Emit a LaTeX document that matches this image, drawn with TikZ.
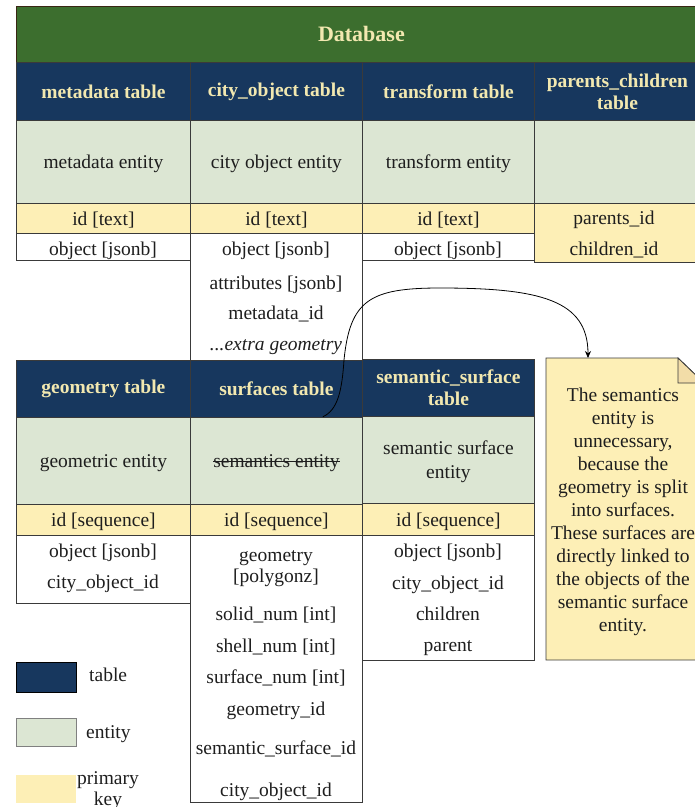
\documentclass[tikz,border=0pt]{standalone}
\usepackage{fontspec}
\setmainfont{Liberation Serif}
\usetikzlibrary{arrows.meta,calc}

\definecolor{dbgreen}{HTML}{3C6E2E}
\definecolor{navy}{HTML}{17375E}
\definecolor{entg}{HTML}{DCE6D3}
\definecolor{pky}{HTML}{FDEFB6}
\definecolor{cream}{HTML}{F2E8B0}
\definecolor{linec}{HTML}{3A3A3A}
\definecolor{txt}{HTML}{1E1E1E}

\newcommand{\bodyfont}{\fontsize{19.5}{23}\selectfont}
\newcommand{\headfont}{\fontsize{19.5}{22}\selectfont\bfseries}

\tikzset{
  cell/.style={draw=linec, line width=0.8pt, inner sep=0pt, anchor=north west,
               align=center, text=txt, font=\bodyfont},
  hdr/.style={cell, fill=navy, text=cream, font=\headfont},
  ent/.style={cell, fill=entg, text depth=0pt},
  pkc/.style={cell, fill=pky, text depth=0pt},
  bodybox/.style={cell, fill=white},
  fld/.style={inner sep=0pt, align=center, text=txt, font=\bodyfont, text depth=0pt},
  link/.style={draw=black, line width=0.8pt, -{Stealth[length=7pt,width=6pt]}},
}

\begin{document}
\begin{tikzpicture}[x=1pt,y=-1pt]
\useasboundingbox (0,0) rectangle (695,807);
\clip (0,0) rectangle (695,807);

% ---------- database banner ----------
\node[cell, fill=dbgreen, draw=black!70!brown, text=cream,
      font=\fontsize{22}{24}\selectfont\bfseries,
      minimum width=690pt, minimum height=56pt] (db) at (16,6) {Database};

% ---------- upper tables: bodies ----------
\node[bodybox, minimum width=174pt, minimum height=27pt]  (mdb) at (16,233) {};
\node[bodybox, minimum width=172pt, minimum height=127pt] (cob) at (190,233) {};
\node[bodybox, minimum width=172pt, minimum height=27pt]  (trb) at (362,233) {};

% headers
\node[hdr, minimum width=174pt, minimum height=58pt] (mdh) at (16,62)  {metadata table};
\node[hdr, minimum width=172pt, minimum height=58pt] (coh) at (190,62) {city\_object table};
\node[hdr, minimum width=172pt, minimum height=58pt] (trh) at (362,62) {transform table};
\node[hdr, minimum width=166pt, minimum height=58pt] (pch) at (534,62) {parents\_children\\table};

% entities
\node[ent, minimum width=174pt, minimum height=83pt] (mde) at (16,120)  {metadata entity};
\node[ent, minimum width=172pt, minimum height=83pt] (coe) at (190,120) {city object entity};
\node[ent, minimum width=172pt, minimum height=83pt] (tre) at (362,120) {transform entity};
\node[ent, minimum width=166pt, minimum height=83pt] (pce) at (534,120) {};

% primary keys
\node[pkc, minimum width=174pt, minimum height=30pt] (mdk) at (16,203)  {id [text]};
\node[pkc, minimum width=172pt, minimum height=30pt] (cok) at (190,203) {id [text]};
\node[pkc, minimum width=172pt, minimum height=30pt] (trk) at (362,203) {id [text]};
\node[pkc, minimum width=166pt, minimum height=59pt] (pck) at (534,203) {};

% fields
\node[fld] (md1) at (103,249) {object [jsonb]};
\node[fld] (co1) at (276,249) {object [jsonb]};
\node[fld] (co2) at (276,283) {attributes [jsonb]};
\node[fld] (co3) at (276,313) {metadata\_id};
\node[fld] (co4) at (276,345) {\textit{...extra geometry}};
\node[fld] (tr1) at (448,249) {object [jsonb]};
\node[fld] (pc1) at (614,218) {parents\_id};
\node[fld] (pc2) at (614,249) {children\_id};

% ---------- lower tables: bodies ----------
\node[bodybox, minimum width=174pt, minimum height=68pt]  (geb) at (16,535)  {};
\node[bodybox, minimum width=172pt, minimum height=267pt] (sfb) at (190,535) {};
\node[bodybox, minimum width=172pt, minimum height=125pt] (ssb) at (362,535) {};

% headers
\node[hdr, minimum width=174pt, minimum height=57pt] (geh) at (16,360)  {geometry table};
\node[hdr, minimum width=172pt, minimum height=57pt] (sfh) at (190,360) {surfaces table};
\node[hdr, minimum width=172pt, minimum height=57pt] (ssh) at (362,359) {semantic\_surface\\table};

% entities
\node[ent, minimum width=174pt, minimum height=87pt] (gee) at (16,417)  {geometric entity};
\node[ent, minimum width=172pt, minimum height=87pt] (sfe) at (190,417) {};
\node[fld] (sfet) at (sfe.center) {semantics entity};
\draw[txt, line width=0.9pt] ($(sfet.west)+(0,1)$) -- ($(sfet.east)+(0,1)$);
\node[ent, minimum width=172pt, minimum height=87pt] (sse) at (362,416) {semantic surface\\[1pt]entity};

% primary keys
\node[pkc, minimum width=174pt, minimum height=31pt] (gek) at (16,504)  {id [sequence]};
\node[pkc, minimum width=172pt, minimum height=31pt] (sfk) at (190,504) {id [sequence]};
\node[pkc, minimum width=172pt, minimum height=32pt] (ssk) at (362,503) {id [sequence]};

% fields
\node[fld] (ge1) at (103,551) {object [jsonb]};
\node[fld] (ge2) at (103,582) {city\_object\_id};

\node[fld, font=\fontsize{19.5}{21}\selectfont] (sf1) at (276,567) {geometry\\{}[polygonz]};
\node[fld] (sf2) at (276,614) {solid\_num [int]};
\node[fld] (sf3) at (276,646) {shell\_num [int]};
\node[fld] (sf4) at (276,677) {surface\_num [int]};
\node[fld] (sf5) at (276,709) {geometry\_id};
\node[fld] (sf6) at (276,748) {semantic\_surface\_id};
\node[fld] (sf7) at (276,790) {city\_object\_id};

\node[fld] (ss1) at (448,551) {object [jsonb]};
\node[fld] (ss2) at (448,583) {city\_object\_id};
\node[fld] (ss3) at (448,614) {children};
\node[fld] (ss4) at (448,646) {parent};

% ---------- note ----------
\coordinate (nNW) at (546,358);
\coordinate (nFold) at (678,358);
\coordinate (nFoldIn) at (678,383);
\coordinate (nE) at (704,383);
\coordinate (nSE) at (704,660);
\coordinate (nSW) at (546,660);
\filldraw[fill=pky, draw=linec, line width=0.8pt]
  (nNW) -- (nFold) -- (nE) -- (nSE) -- (nSW) -- cycle;
\filldraw[fill=pky!80!brown!90!white, draw=linec, line width=0.8pt]
  (nFold) -- (nFoldIn) -- (nE) -- cycle;
\node[fld] (note) at (623,510) {The semantics\\entity is\\unnecessary,\\because the\\geometry is split\\into surfaces.\\These surfaces are\\directly linked to\\the objects of the\\semantic surface\\entity.};

% ---------- connector ----------
\coordinate (arrS) at ($(sfh.south east)+(-40,-1)$);
\coordinate (arrE) at (588,358);
\draw[link] (arrS) .. controls (338,410) and (342,390) .. (344,360)
  .. controls (350,300) and (370,288) .. (440,288)
  .. controls (540,288) and (588,300) .. (arrE);

% ---------- legend ----------
\node[hdr, draw=black, minimum width=60pt, minimum height=30pt] (lgT) at (16,662) {};
\node[fld, anchor=west] (lgTl) at (89,675) {table};
\node[ent, draw=gray, minimum width=60pt, minimum height=28pt] (lgE) at (16,718) {};
\node[fld, anchor=west] (lgEl) at (86,732) {entity};
\node[pkc, draw=none, minimum width=60pt, minimum height=28pt] (lgK) at (16,775) {};
\node[fld, font=\fontsize{19.5}{21}\selectfont] (lgKl) at (108,789) {primary\\key};
\end{tikzpicture}
\end{document}
